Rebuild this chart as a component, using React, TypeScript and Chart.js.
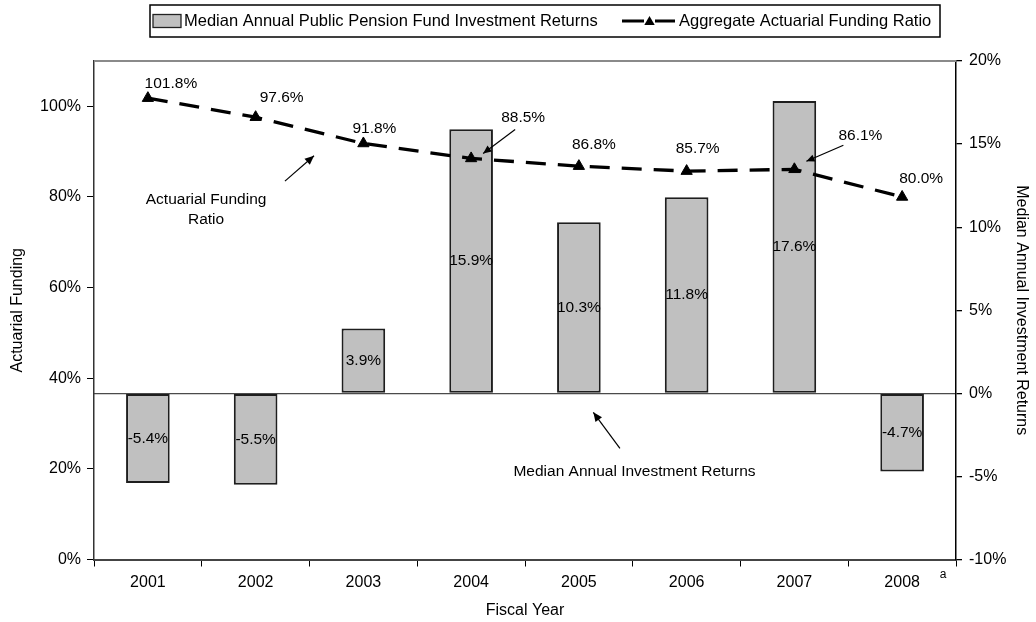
import React, { useEffect, useRef } from 'react';
import { Chart, registerables } from 'chart.js';

Chart.register(...registerables);

// ---------- data ----------
const fiscalYears = ['2001', '2002', '2003', '2004', '2005', '2006', '2007', '2008'];
const investmentReturns = [-5.4, -5.5, 3.9, 15.9, 10.3, 11.8, 17.6, -4.7];
const fundingRatio = [101.8, 97.6, 91.8, 88.5, 86.8, 85.7, 86.1, 80.0];
const barSeriesName = 'Median Annual Public Pension Fund Investment Returns';
const lineSeriesName = 'Aggregate Actuarial Funding Ratio';
const leftAxisRange = [0, 110, 20];
const rightAxisRange = [-10, 20, 5];
const leftAxisTitle = 'Actuarial Funding';
const rightAxisTitle = 'Median Annual Investment Returns';
const xAxisTitle = 'Fiscal Year';
const footnoteMark = 'a';
const fundingNote = ['Actuarial Funding', 'Ratio'];
const returnsNote = 'Median Annual Investment Returns';

// label placement (pixel offsets from the point), and leader arrows
const lineLabelOffsets: [number, number][] = [
  [23, -14], [26, -19], [11, -15], [52, -41], [15, -21], [11, -22], [66, -34], [19, -18],
];
const lineLabelArrows: ([number, number, number, number] | null)[] = [
  null, null, null, [44, -29, 12, -5], null, null, [49, -24, 12, -8], null,
];

const FONT = '"Liberation Sans", Arial, Helvetica, sans-serif';

function drawArrow(ctx: CanvasRenderingContext2D, x1: number, y1: number, x2: number, y2: number, head = 9) {
  ctx.beginPath();
  ctx.moveTo(x1, y1);
  ctx.lineTo(x2, y2);
  ctx.stroke();
  const a = Math.atan2(y2 - y1, x2 - x1);
  ctx.beginPath();
  ctx.moveTo(x2, y2);
  ctx.lineTo(x2 - head * Math.cos(a - 0.42), y2 - head * Math.sin(a - 0.42));
  ctx.lineTo(x2 - head * Math.cos(a + 0.42), y2 - head * Math.sin(a + 0.42));
  ctx.closePath();
  ctx.fill();
}

function drawTriangle(ctx: CanvasRenderingContext2D, x: number, y: number, r: number) {
  ctx.beginPath();
  ctx.moveTo(x, y - r);
  ctx.lineTo(x + r * 0.866, y + r * 0.5);
  ctx.lineTo(x - r * 0.866, y + r * 0.5);
  ctx.closePath();
  ctx.fill();
}

const decorPlugin = {
  id: 'decor',
  afterDatasetsDraw(chart: any) {
    const ctx: CanvasRenderingContext2D = chart.ctx;
    const area = chart.chartArea;
    const xs = chart.scales.x;
    const yl = chart.scales.y;
    const yr = chart.scales.y1;
    ctx.save();

    // top border of plot
    ctx.strokeStyle = '#8a8a8a';
    ctx.lineWidth = 2;
    ctx.beginPath();
    ctx.moveTo(area.left, area.top);
    ctx.lineTo(area.right, area.top);
    ctx.stroke();

    ctx.fillStyle = '#000';
    ctx.font = `15.5px ${FONT}`;
    ctx.textAlign = 'center';
    ctx.textBaseline = 'middle';

    // bar labels
    const barMeta = chart.getDatasetMeta(0);
    barMeta.data.forEach((el: any, i: number) => {
      const cy = (el.y + el.base) / 2;
      ctx.fillText(investmentReturns[i].toFixed(1) + '%', el.x, cy);
    });

    // line labels + leaders
    const lineMeta = chart.getDatasetMeta(1);
    ctx.strokeStyle = '#000';
    ctx.lineWidth = 1.2;
    lineMeta.data.forEach((el: any, i: number) => {
      const [dx, dy] = lineLabelOffsets[i];
      ctx.fillText(fundingRatio[i].toFixed(1) + '%', el.x + dx, el.y + dy);
      const arr = lineLabelArrows[i];
      if (arr) drawArrow(ctx, el.x + arr[0], el.y + arr[1], el.x + arr[2], el.y + arr[3], 9);
    });

    // annotation: funding ratio
    const ax = xs.getPixelForValue(0.54);
    const ay = yl.getPixelForValue(77.1);
    ctx.fillText(fundingNote[0], ax, ay - 10);
    ctx.fillText(fundingNote[1], ax, ay + 10);
    drawArrow(ctx, xs.getPixelForValue(1.272), yl.getPixelForValue(83.5), xs.getPixelForValue(1.542), yl.getPixelForValue(89.1), 10);

    // annotation: investment returns
    ctx.fillText(returnsNote, xs.getPixelForValue(4.516), yr.getPixelForValue(-4.72));
    drawArrow(ctx, xs.getPixelForValue(4.381), yr.getPixelForValue(-3.31), xs.getPixelForValue(4.134), yr.getPixelForValue(-1.14), 10);

    ctx.restore();
  },
  afterDraw(chart: any) {
    const ctx: CanvasRenderingContext2D = chart.ctx;
    const xs = chart.scales.x;
    const area = chart.chartArea;
    ctx.save();

    // footnote mark next to last category
    ctx.fillStyle = '#000';
    ctx.font = `12px ${FONT}`;
    ctx.textAlign = 'center';
    ctx.textBaseline = 'middle';
    ctx.fillText(footnoteMark, xs.getPixelForValue(fiscalYears.length - 1) + 41, area.bottom + 15);

    // legend
    const bx = 150, by = 5, bw = 790, bh = 32;
    ctx.strokeStyle = '#000';
    ctx.lineWidth = 1.5;
    ctx.strokeRect(bx, by, bw, bh);
    const cy = by + bh / 2;
    // bar swatch
    ctx.fillStyle = '#c0c0c0';
    ctx.fillRect(153, cy - 6.5, 28, 13);
    ctx.strokeStyle = '#222';
    ctx.lineWidth = 1.3;
    ctx.strokeRect(153, cy - 6.5, 28, 13);
    ctx.fillStyle = '#000';
    ctx.font = `16.5px ${FONT}`;
    ctx.textAlign = 'left';
    ctx.fillText(barSeriesName, 184, cy + 0.5);
    // line swatch
    ctx.strokeStyle = '#000';
    ctx.lineWidth = 3;
    ctx.beginPath();
    ctx.moveTo(622, cy);
    ctx.lineTo(644, cy);
    ctx.moveTo(655, cy);
    ctx.lineTo(675, cy);
    ctx.stroke();
    drawTriangle(ctx, 649.5, cy + 1, 6);
    ctx.fillText(lineSeriesName, 679, cy + 0.5);

    ctx.restore();
  },
};

export default function App() {
  const canvasRef = useRef<HTMLCanvasElement | null>(null);

  useEffect(() => {
    if (!canvasRef.current) return;
    const pct = (v: any) => `${v}%`;
    const chart = new Chart(canvasRef.current, {
      type: 'bar',
      data: {
        labels: fiscalYears,
        datasets: [
          {
            type: 'bar',
            label: barSeriesName,
            data: investmentReturns,
            yAxisID: 'y1',
            backgroundColor: '#c0c0c0',
            borderColor: '#1e1e1e',
            borderWidth: 2,
            borderSkipped: false,
            barPercentage: 0.405,
            categoryPercentage: 1,
            order: 2,
          } as any,
          {
            type: 'line',
            label: lineSeriesName,
            data: fundingRatio,
            yAxisID: 'y',
            borderColor: '#000',
            borderWidth: 3.3,
            borderDash: [20, 12],
            fill: false,
            tension: 0,
            pointStyle: 'triangle',
            pointRadius: 6.5,
            pointBackgroundColor: '#000',
            pointBorderColor: '#000',
            pointBorderWidth: 1,
            order: 1,
          } as any,
        ],
      },
      options: {
        responsive: false,
        animation: false,
        devicePixelRatio: 1,
        layout: { padding: { top: 61, left: 0, right: 0, bottom: 0 } },
        plugins: {
          legend: { display: false },
          tooltip: { enabled: false },
        },
        scales: {
          x: {
            type: 'category',
            offset: true,
            grid: {
              offset: true,
              drawOnChartArea: false,
              drawTicks: true,
              tickLength: 7,
              tickColor: '#000',
              lineWidth: 1,
            },
            border: { color: '#444', width: 2 },
            ticks: { color: '#000', font: { family: FONT, size: 16 }, padding: 6, maxRotation: 0 },
            title: {
              display: true,
              text: xAxisTitle,
              color: '#000',
              font: { family: FONT, size: 16 },
              padding: { top: 0, bottom: 1.7 },
            },
            afterFit: (s: any) => { s.height = 62.5; },
          },
          y: {
            type: 'linear',
            position: 'left',
            min: leftAxisRange[0],
            max: leftAxisRange[1],
            ticks: {
              stepSize: leftAxisRange[2],
              includeBounds: false,
              callback: pct,
              color: '#000',
              font: { family: FONT, size: 16 },
              padding: 6,
            },
            grid: { drawOnChartArea: false, tickLength: 7, tickColor: '#000' },
            border: { color: '#333', width: 1.5 },
            title: {
              display: true,
              text: leftAxisTitle,
              color: '#000',
              font: { family: FONT, size: 16 },
              padding: { top: 8.4, bottom: 0 },
            },
            afterFit: (s: any) => { s.width = 94; },
          },
          y1: {
            type: 'linear',
            position: 'right',
            min: rightAxisRange[0],
            max: rightAxisRange[1],
            ticks: {
              stepSize: rightAxisRange[2],
              callback: pct,
              color: '#000',
              font: { family: FONT, size: 16 },
              padding: 7,
            },
            grid: {
              drawOnChartArea: true,
              color: (c: any) => (c.tick && c.tick.value === 0 ? '#4a4a4a' : 'rgba(0,0,0,0)'),
              lineWidth: 1.3,
              tickLength: 6,
              tickColor: '#000',
            },
            border: { color: '#000', width: 1.5 },
            title: {
              display: true,
              text: rightAxisTitle,
              color: '#000',
              font: { family: FONT, size: 16 },
              padding: { top: 4.5, bottom: 0 },
            },
            afterFit: (s: any) => { s.width = 80; },
          },
        },
      } as any,
      plugins: [decorPlugin],
    });
    return () => chart.destroy();
  }, []);

  return (
    <div style={{ position: 'absolute', left: 0, top: 0, width: 1036, height: 622, background: '#fff' }}>
      <canvas ref={canvasRef} width={1036} height={622} />
    </div>
  );
}
